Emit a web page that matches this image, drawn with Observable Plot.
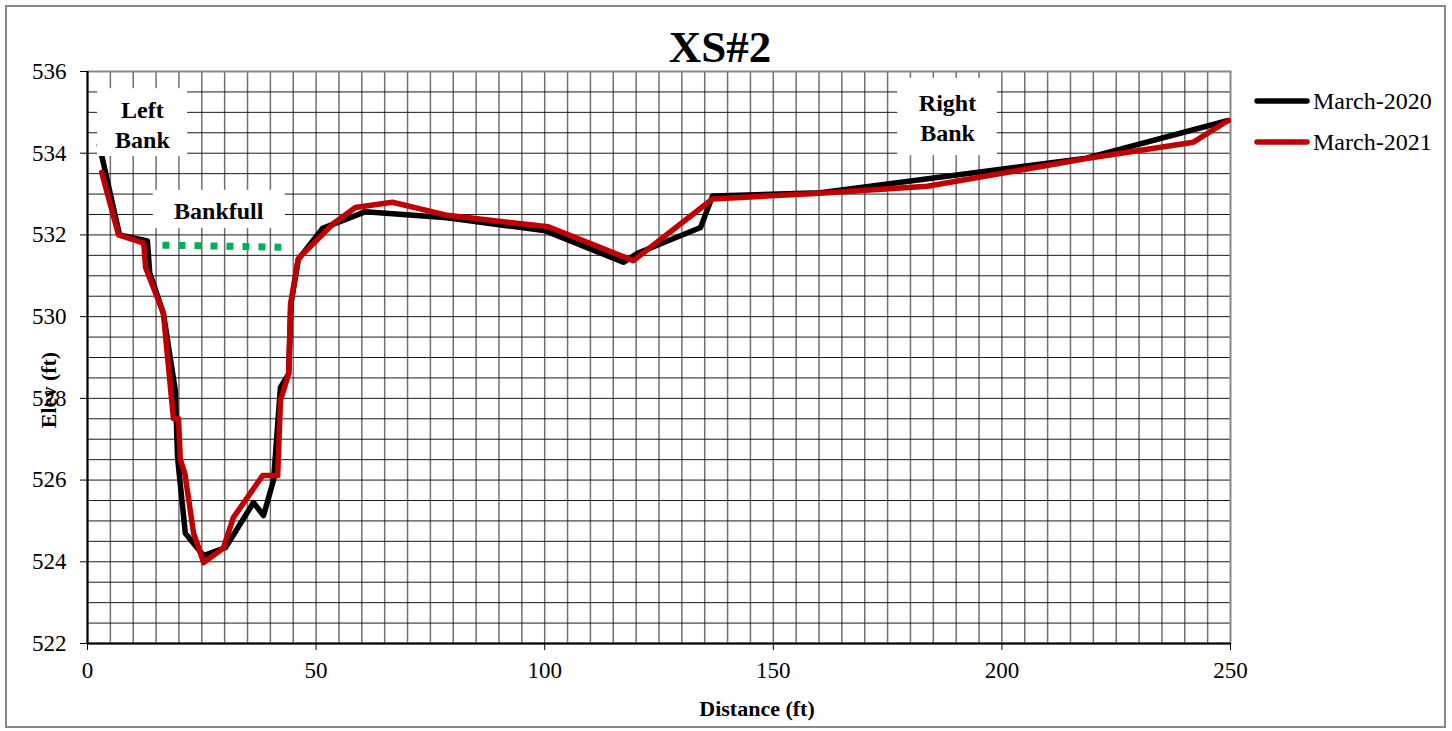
<!DOCTYPE html>
<html>
<head>
<meta charset="utf-8">
<script src="https://cdn.jsdelivr.net/npm/d3@7"></script>
<script src="https://cdn.jsdelivr.net/npm/@observablehq/plot@0.6"></script>
<style>
  html, body { margin: 0; padding: 0; background: #fff; }
  #wrap { position: relative; width: 1452px; height: 731px; overflow: hidden; }
  #border { position: absolute; left: 5px; top: 5px; width: 1441px; height: 723px; box-sizing: border-box; border: 2px solid #888; }
  #chart, #overlay { position: absolute; left: 0; top: 0; }
</style>
</head>
<body>
<div id="wrap">
  <div id="border"></div>
  <div id="chart"></div>
  <svg id="overlay" width="1452" height="731"></svg>
</div>
<script>
// ---- data ----
const seriesNames = ["March-2020", "March-2021"];
const seriesColors = ["#000000", "#c00000"];

const dist2020 = [2.6, 7.0, 13.1, 13.6, 16.6, 19.2, 19.7, 21.4, 25.4, 30.2, 36.3, 38.5, 40.7, 42.2, 44.0, 44.5, 46.1, 51.4, 60.8, 78.7, 100.2, 117.2, 120.3, 134.1, 136.7, 160.3, 218.5, 249.5];
const elev2020 = [534.2, 532.0, 531.85, 531.08, 530.08, 528.2, 526.55, 524.7, 524.15, 524.35, 525.45, 525.13, 526.0, 528.27, 528.6, 530.3, 531.4, 532.16, 532.57, 532.42, 532.1, 531.33, 531.55, 532.18, 532.95, 533.03, 533.88, 534.8];

const dist2021 = [3.1, 6.8, 12.3, 12.7, 16.6, 18.8, 19.9, 20.3, 21.3, 23.2, 25.4, 29.7, 31.9, 38.3, 41.6, 42.2, 44.0, 44.4, 46.1, 53.8, 58.6, 66.7, 78.7, 100.8, 119.4, 136.7, 160.3, 183.7, 218.5, 241.9, 249.5];
const elev2021 = [533.53, 532.0, 531.8, 531.2, 530.08, 527.5, 527.5, 526.5, 526.16, 524.7, 523.98, 524.33, 525.08, 526.11, 526.11, 527.95, 528.6, 530.3, 531.42, 532.28, 532.67, 532.8, 532.48, 532.2, 531.37, 532.88, 533.02, 533.19, 533.87, 534.27, 534.8];

const bankfullDist = [16.4, 42.4];
const bankfullElev = [531.75, 531.7];

const xTicks = [0, 50, 100, 150, 200, 250];
const yTicks = [522, 524, 526, 528, 530, 532, 534, 536];
const xGrid = d3.range(5, 250, 5);
const yGrid = d3.range(522.5, 536, 0.5);

// annotation boxes (data coordinates) and labels
const noteText = ["Left\nBank", "Bankfull", "Right\nBank"];
const noteX = [12.0, 28.7, 188.1];
const noteY = [534.74, 532.62, 534.89];
const noteX1 = [2.2, 14.4, 177.2];
const noteX2 = [21.9, 43.3, 199.0];
const noteY1 = [533.92, 532.16, 533.94];
const noteY2 = [535.58, 533.09, 535.83];

// ---- build tables ----
const lineData = [
  ...dist2020.map((d, i) => ({ x: d, y: elev2020[i], s: seriesNames[0] })),
  ...dist2021.map((d, i) => ({ x: d, y: elev2021[i], s: seriesNames[1] }))
];
const bankfull = bankfullDist.map((d, i) => ({ x: d, y: bankfullElev[i] }));
const notes = noteText.map((t, i) => ({ t, x: noteX[i], y: noteY[i], x1: noteX1[i], x2: noteX2[i], y1: noteY1[i], y2: noteY2[i] }));

const W = 1452, H = 731;
const chart = Plot.plot({
  width: W,
  height: H,
  marginLeft: 87,
  marginRight: 222,
  marginTop: 71,
  marginBottom: 88,
  style: { fontFamily: "'Liberation Serif', 'Times New Roman', serif", fontSize: "23px", color: "#000", background: "transparent", overflow: "visible" },
  x: { domain: [0, 250] },
  y: { domain: [522, 536] },
  color: { domain: seriesNames, range: seriesColors },
  marks: [
    Plot.ruleX(xGrid, { stroke: "#707070", strokeWidth: 1.5 }),
    Plot.ruleY(yGrid, { stroke: "#1a1a1a", strokeWidth: 1 }),
    Plot.frame({ stroke: "#888", strokeWidth: 2 }),
    Plot.ruleX([0], { stroke: "#000", strokeWidth: 2 }),
    Plot.ruleY([522], { stroke: "#000", strokeWidth: 2 }),
    Plot.axisX({ ticks: xTicks, tickSize: 7, tickPadding: 11, label: null, fontSize: 23, tickFormat: d => String(d) }),
    Plot.axisY({ ticks: yTicks, tickSize: 7, tickPadding: 14, label: null, fontSize: 23, tickFormat: d => String(d) }),
    Plot.line(lineData, { x: "x", y: "y", z: "s", stroke: "s", strokeWidth: 5.5, strokeLinejoin: "round", strokeLinecap: "round" }),
    Plot.line(bankfull, { x: "x", y: "y", stroke: "#00b050", strokeWidth: 7, strokeDasharray: "7,9", strokeLinecap: "butt" }),
    Plot.rect(notes, { x1: "x1", x2: "x2", y1: "y1", y2: "y2", fill: "#fff" }),
    Plot.text(notes, { x: "x", y: "y", text: "t", fontSize: 24, fontWeight: "bold", lineHeight: 1.25, lineAnchor: "middle", fill: "#000" })
  ]
});
document.getElementById("chart").appendChild(chart);

// ---- overlay: title, axis titles, legend ----
const ov = d3.select("#overlay").style("font-family", "'Liberation Serif', 'Times New Roman', serif");
ov.append("text").attr("x", 720).attr("y", 62).attr("text-anchor", "middle")
  .attr("font-size", 45).attr("font-weight", "bold").text("XS#2");
ov.append("text").attr("x", 757).attr("y", 716).attr("text-anchor", "middle")
  .attr("font-size", 22).attr("font-weight", "bold").text("Distance (ft)");
ov.append("text").attr("transform", "translate(56,390) rotate(-90)").attr("text-anchor", "middle")
  .attr("font-size", 22).attr("font-weight", "bold").text("Elev (ft)");

const lg = ov.append("g");
seriesNames.forEach((name, i) => {
  const yy = 101 + i * 41;
  lg.append("line").attr("x1", 1257).attr("x2", 1307).attr("y1", yy).attr("y2", yy)
    .attr("stroke", seriesColors[i]).attr("stroke-width", 5.5).attr("stroke-linecap", "round");
  lg.append("text").attr("x", 1313).attr("y", yy + 8).attr("font-size", 24).text(name);
});
</script>
</body>
</html>
